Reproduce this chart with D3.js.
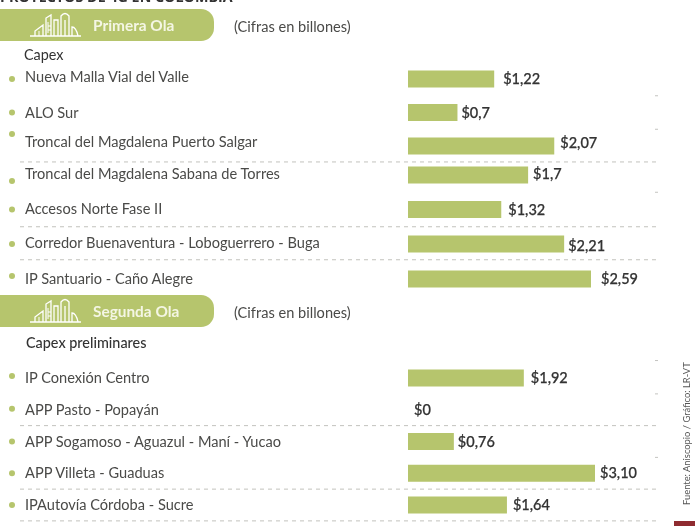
<!DOCTYPE html>
<html>
<head>
<meta charset="utf-8">
<script src="https://cdn.jsdelivr.net/npm/d3@7"></script>
<style>
  html, body { margin: 0; padding: 0; background: #fff; }
  svg { display: block; filter: blur(0.45px); }
  text { font-family: Lato, "Open Sans", sans-serif; fill: #4a4a48; }
</style>
</head>
<body>
<div id="chart"></div>
<script>
const title = "PROYECTOS DE 4G EN COLOMBIA";
const unitNote = "(Cifras en billones)";

const firstWaveName = "Primera Ola";
const firstWaveCapexLabel = "Capex";
const firstWaveProjects = ["Nueva Malla Vial del Valle", "ALO Sur", "Troncal del Magdalena Puerto Salgar",
    "Troncal del Magdalena Sabana de Torres", "Accesos Norte Fase II",
    "Corredor Buenaventura - Loboguerrero - Buga", "IP Santuario - Caño Alegre"];
const firstWaveValues = [1.22, 0.7, 2.07, 1.7, 1.32, 2.21, 2.59];
const firstWaveLabels = ["$1,22", "$0,7", "$2,07", "$1,7", "$1,32", "$2,21", "$2,59"];

const secondWaveName = "Segunda Ola";
const secondWaveCapexLabel = "Capex preliminares";
const secondWaveProjects = ["IP Conexión Centro", "APP Pasto - Popayán", "APP Sogamoso - Aguazul - Maní - Yucao",
    "APP Villeta - Guaduas", "IPAutovía Córdoba - Sucre"];
const secondWaveValues = [1.92, 0, 0.76, 3.10, 1.64];
const secondWaveLabels = ["$1,92", "$0", "$0,76", "$3,10", "$1,64"];

const source = "Fuente: Aniscopio / Gráfico: LR-VT";

const green = "#b6c56d";
const barX = 408;
const gridLeft = 20, gridRight = 658;

const svg = d3.select("#chart").append("svg")
    .attr("width", 700)
    .attr("height", 526);

// the two waves are not drawn at the same px per billion in the original, so each gets its own scale
const firstX = d3.scaleLinear().domain([0, 2.59]).range([0, 183]);
const secondX = d3.scaleLinear().domain([0, 3.10]).range([0, 187]);

// row spacing of the first block is uneven, the knots follow it
const firstY = d3.scaleLinear().domain([0, 2, 3, 5, 6]).range([79, 146, 175, 244, 279]);
const secondY = d3.scaleLinear().domain([0, 4]).range([378, 505]);

svg.append("text")
    .attr("x", 0)
    .attr("y", 2)
    .style("font-family", "'Open Sans', sans-serif")
    .style("font-weight", 700)
    .style("font-size", "14.3px")
    .style("fill", "#333")
    .text(title);

function drawSkyline(g) {
    let skyline = g.append("g")
        .attr("fill", "none")
        .attr("stroke", "#fff")
        .attr("stroke-width", 1.3);

    skyline.append("path").attr("d", "M30 36H81");
    skyline.append("path").attr("d", "M35 36V31L43 25V36M46 36V18L51 15V36M54 36V20H58V36M61 36V16Q65 11 69 16V36M65 36V20M72 36V27Q76 27 78 36");
    skyline.append("path").attr("d", "M39 36V31M48 22V33M48 26H51M48 30H51").attr("stroke-width", 1);
}

function drawWave(opts) {
    let g = svg.append("g");

    // pill header, square on the left since it runs off the page
    g.append("path")
        .attr("d", "M-5 " + opts.pillTop + "H201a13 13 0 0 1 13 13v6a13 13 0 0 1 -13 13H-5Z")
        .attr("fill", green);

    let icon = g.append("g").attr("transform", "translate(0," + (opts.pillTop - 9) + ")");
    drawSkyline(icon);

    g.append("text")
        .attr("x", 93)
        .attr("y", opts.pillTop + 22)
        .style("fill", "#f4f6e4")
        .style("font-weight", 700)
        .style("font-size", "15.4px")
        .text(opts.name);

    g.append("text")
        .attr("x", 234)
        .attr("y", opts.pillTop + 23)
        .style("font-size", "14.6px")
        .text(unitNote);

    g.append("text")
        .attr("x", opts.capexX)
        .attr("y", opts.capexY)
        .style("font-size", "14.4px")
        .style("font-weight", opts.capexWeight)
        .style("fill", "#333")
        .text(opts.capex);

    let rows = d3.range(opts.projects.length);

    g.selectAll("line.sep")
        .data(opts.separators)
        .join("line")
        .attr("class", "sep")
        .attr("x1", gridLeft)
        .attr("x2", gridRight)
        .attr("y1", d => opts.y(d))
        .attr("y2", d => opts.y(d))
        .attr("stroke", "#c2c2bd")
        .attr("stroke-width", 1)
        .attr("stroke-dasharray", "4 4");

    // only the right end of these separators survives in the picture
    g.selectAll("line.stub")
        .data(opts.stubs)
        .join("line")
        .attr("class", "stub")
        .attr("x1", 655)
        .attr("x2", 658)
        .attr("y1", d => opts.y(d))
        .attr("y2", d => opts.y(d))
        .attr("stroke", "#c4c4c0");

    g.selectAll("circle.dot")
        .data(rows)
        .join("circle")
        .attr("class", "dot")
        .attr("cx", 12)
        .attr("cy", i => opts.y(i) + (opts.dotNudge[i] || 0))
        .attr("r", 3)
        .attr("fill", green);

    g.selectAll("text.project")
        .data(rows)
        .join("text")
        .attr("class", "project")
        .attr("x", 25)
        .attr("y", i => opts.y(i) + (opts.textNudge[i] || 0))
        .attr("dy", "0.35em")
        .style("font-size", "14.6px")
        .text(i => opts.projects[i]);

    g.selectAll("rect.bar")
        .data(rows)
        .join("rect")
        .attr("class", "bar")
        .attr("x", barX)
        .attr("y", i => opts.y(i) - 8.5)
        .attr("width", i => opts.x(opts.values[i]))
        .attr("height", 17)
        .attr("fill", green);

    g.selectAll("text.value")
        .data(rows)
        .join("text")
        .attr("class", "value")
        .attr("x", i => barX + opts.x(opts.values[i]) + opts.labelGap[i])
        .attr("y", i => opts.y(i) + (opts.valueNudge[i] || 0))
        .attr("dy", "0.35em")
        .style("font-size", "14.5px")
        .style("font-weight", 500)
        .style("fill", "#333")
        .style("stroke", "#333")
        .style("stroke-width", 0.25)
        .text(i => opts.labels[i]);
}

drawWave({
    name: firstWaveName, capex: firstWaveCapexLabel, projects: firstWaveProjects,
    values: firstWaveValues, labels: firstWaveLabels,
    x: firstX, y: firstY, pillTop: 9,
    capexX: 24, capexY: 60, capexWeight: 400,
    separators: [2.55, 4.5, 5.45], stubs: [0.5, 1.5, 3.5],
    dotNudge: {2: -12, 3: 6, 6: -3}, textNudge: {0: -2, 2: -4, 3: -1, 4: -1, 5: -1},
    valueNudge: {2: -3, 3: -1, 5: 2},
    labelGap: [9, 4, 6, 5, 7, 4, 10]
});

drawWave({
    name: secondWaveName, capex: secondWaveCapexLabel, projects: secondWaveProjects,
    values: secondWaveValues, labels: secondWaveLabels,
    x: secondX, y: secondY, pillTop: 295,
    capexX: 26, capexY: 348, capexWeight: 500,
    separators: [1.5, 3.5, 4.5], stubs: [-0.55, 0.5, 2.5],
    dotNudge: {0: -2, 1: -1}, textNudge: {},
    valueNudge: {},
    labelGap: [7, 6, 4, 5, 6]
});

svg.append("text")
    .attr("transform", "translate(690,505) rotate(-90)")
    .style("font-size", "9.4px")
    .style("fill", "#555")
    .text(source);

svg.append("rect")
    .attr("x", 674)
    .attr("y", 521)
    .attr("width", 21)
    .attr("height", 5)
    .attr("fill", "#8f2b30");
</script>
</body>
</html>
